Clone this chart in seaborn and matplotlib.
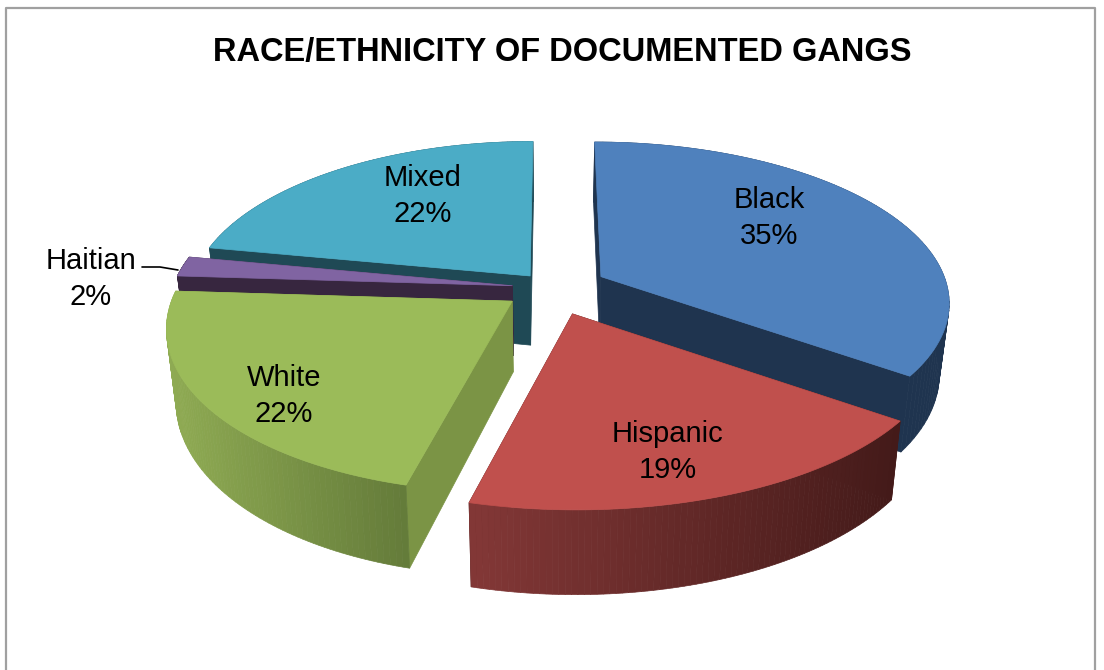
import numpy as np
import seaborn as sns
import matplotlib
matplotlib.use("Agg")
import matplotlib.pyplot as plt
from matplotlib.patches import Polygon

# --- DATA ---
categories = ["Black", "Hispanic", "White", "Haitian", "Mixed"]
shares = [35, 19, 22, 2, 22]
explode = [0.16, 0.17, 0.14, 0.115, 0.1]
title = "RACE/ETHNICITY OF DOCUMENTED GANGS"

# --- COLOURS (top, cut face, wall start, wall end) ---
top_colors = ["#4f81bd", "#c0504d", "#9bbb59", "#8064a2", "#4bacc6"]
cut_colors = ["#1f344f", "#4a1c1a", "#7b9445", "#37263f", "#1f4955"]
wall_left = ["#1f344f", "#823736", "#8fab53", "#37263f", "#1f4955"]
wall_right = ["#1f344f", "#431a19", "#637a39", "#37263f", "#1f4955"]

# the original picture was hand-warped a bit, so some slices are narrower
slice_width = [1.0, 1.03, 0.97, 0.98, 0.98]

# --- PROJECTION of the flat pie onto the tilted disc (picture pixels) ---
CX, CY = 552, 288
RX, RY = 347, 158
TILT = 0.15
DEPTH = 70
SHRINK = 0.975


def project(x, y, low=False):
    w = 1 + TILT * y
    px = RX * x / w
    py = -RY * y / w
    if low:
        return CX + px * SHRINK, CY + py + DEPTH / w
    return CX + px, CY + py


def arc_points(wedge, width, n=80):
    t = np.radians(np.linspace(wedge.theta1, wedge.theta2, n))
    return wedge.center[0] + width * wedge.r * np.cos(t), wedge.center[1] + wedge.r * np.sin(t)


def draw_slice(ax, wedge, i):
    ax0, ay0 = wedge.center
    xs, ys = arc_points(wedge, slice_width[i])

    # radial cut faces
    for xe, ye in [(xs[0], ys[0]), (xs[-1], ys[-1])]:
        quad = [project(ax0, ay0), project(xe, ye), project(xe, ye, True), project(ax0, ay0, True)]
        ax.add_patch(Polygon(quad, closed=True, fc=cut_colors[i], ec=cut_colors[i], lw=0.5))

    # outer wall, shaded along the arc by screen position
    shades = sns.blend_palette([wall_left[i], wall_right[i]], 64)
    px_all = np.array([project(x, y)[0] for x, y in zip(xs, ys)])
    lo, hi = px_all.min(), px_all.max()
    for j in range(len(xs) - 1):
        quad = [project(xs[j], ys[j]), project(xs[j + 1], ys[j + 1]),
                project(xs[j + 1], ys[j + 1], True), project(xs[j], ys[j], True)]
        pos = (px_all[j] - lo) / max(hi - lo, 1)
        c = shades[int(pos * 63)]
        ax.add_patch(Polygon(quad, closed=True, fc=c, ec=c, lw=0.5))

    # top face
    top = [project(ax0, ay0)] + [project(x, y) for x, y in zip(xs, ys)]
    ax.add_patch(Polygon(top, closed=True, fc=top_colors[i], ec=top_colors[i], lw=0.5))


sns.set_theme(style="white")
plt.rcParams["font.family"] = ["Liberation Sans", "DejaVu Sans"]

fig = plt.figure(figsize=(11.04, 6.70), dpi=100)
ax = fig.add_axes([0, 0, 1, 1])

# let the pie work out the angles and the explode offsets
wedges, _ = ax.pie(shares, explode=explode, startangle=90, counterclock=False,
                   colors=sns.color_palette(top_colors))
for w in wedges:
    w.set_visible(False)

ax.set_aspect("auto")
ax.set_xlim(0, 1104)
ax.set_ylim(670, 0)
ax.axis("off")

# painter's order: back slices first
for i in [4, 3, 2, 0, 1]:
    draw_slice(ax, wedges[i], i)

# chart border (no bottom edge in the crop)
ax.plot([6, 6, 1095, 1095], [670, 8, 8, 670], color="#a0a0a0", lw=1.6, clip_on=False)

ax.text(562, 53, title, ha="center", va="center", fontsize=23.5, fontweight="bold", color="black")

label_pos = {"Black": (769, 218), "Hispanic": (668, 452), "White": (284, 396),
             "Haitian": (91, 279), "Mixed": (423, 196)}
for name, val in zip(categories, shares):
    x, y = label_pos[name]
    ax.text(x, y, f"{name}\n{val}%", ha="center", va="center", fontsize=21,
            linespacing=1.38, color="black")

# leader line for the small slice
ax.plot([142, 160, 178], [267, 267, 270], color="black", lw=1.2)

fig.savefig("out.png", dpi=100)
